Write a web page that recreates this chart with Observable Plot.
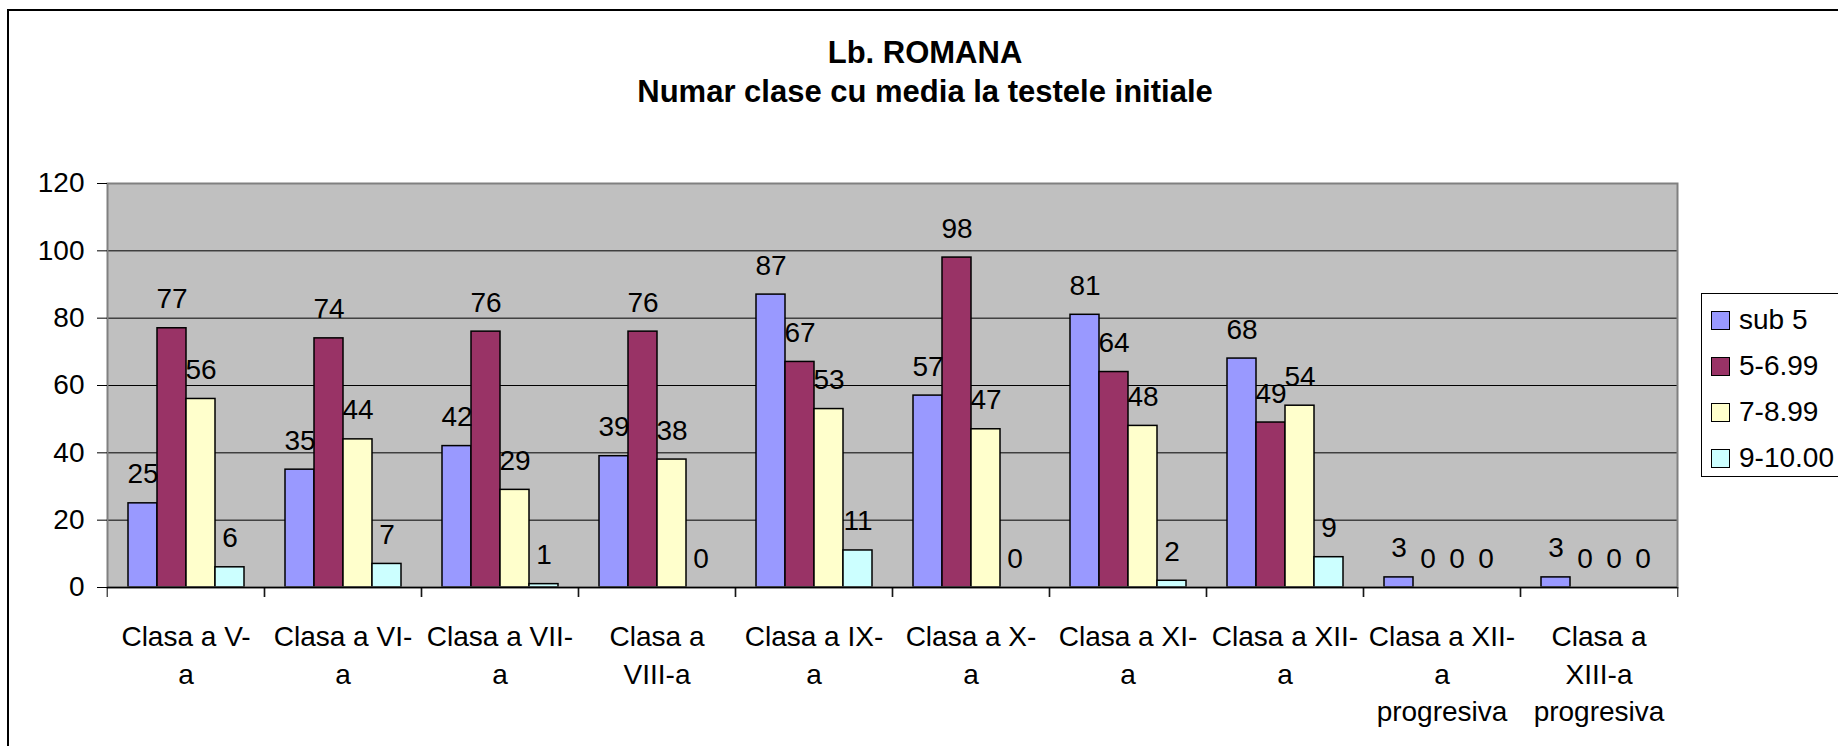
<!DOCTYPE html>
<html><head><meta charset="utf-8">
<script src="https://cdn.jsdelivr.net/npm/d3@7"></script>
<script src="https://cdn.jsdelivr.net/npm/@observablehq/plot@0.6"></script>
<style>
html,body{margin:0;padding:0;background:#fff;}
#wrap{position:relative;width:1838px;height:746px;overflow:hidden;font-family:"Liberation Sans",Arial,sans-serif;color:#000;background:#fff;}
#border{position:absolute;left:7px;top:9px;width:1900px;height:800px;border:2px solid #000;box-sizing:border-box;}
#title{position:absolute;left:0;top:33px;width:1850px;text-align:center;font-weight:bold;font-size:31px;line-height:39px;}
#chart{position:absolute;left:0;top:150px;}
#legend{position:absolute;left:1701px;top:293px;width:220px;height:184px;border:1.5px solid #000;box-sizing:border-box;background:#fff;padding-top:3px;}
.row{height:46px;display:flex;align-items:center;font-size:28px;}
.sw{width:19px;height:19px;border:1.5px solid #000;box-sizing:border-box;margin-left:9px;margin-right:9px;}
</style></head>
<body>
<div id="wrap">
  <div id="border"></div>
  <div id="title"><div>Lb. ROMANA</div><div>Numar clase cu media la testele initiale</div></div>
  <div id="chart"></div>
  <div id="legend"></div>
</div>
<script>
const categories = ["Clasa a V-a","Clasa a VI-a","Clasa a VII-a","Clasa a VIII-a","Clasa a IX-a","Clasa a X-a","Clasa a XI-a","Clasa a XII-a","Clasa a XII-a progresiva","Clasa a XIII-a progresiva"];
const tickLabels = ["Clasa a V-\na","Clasa a VI-\na","Clasa a VII-\na","Clasa a\nVIII-a","Clasa a IX-\na","Clasa a X-\na","Clasa a XI-\na","Clasa a XII-\na","Clasa a XII-\na\nprogresiva","Clasa a\nXIII-a\nprogresiva"];
const series = ["sub 5","5-6.99","7-8.99","9-10.00"];
const colors = ["#9999FF","#993366","#FFFFCC","#CCFFFF"];
const sub5   = [25,35,42,39,87,57,81,68,3,3];
const r5_699 = [77,74,76,76,67,98,64,49,0,0];
const r7_899 = [56,44,29,38,53,47,48,54,0,0];
const r9_10  = [6,7,1,0,11,0,2,9,0,0];
const yTicks = [0,20,40,60,80,100,120];
const gridTicks = [20,40,60,80,100];

const seriesValues = [sub5, r5_699, r7_899, r9_10];
const rows = [];
categories.forEach((c, i) => series.forEach((s, j) => rows.push({cat: c, series: s, value: seriesValues[j][i]})));

const W = 1838, ML = 104, MR = 158;
const half = (W - ML - MR) / categories.length / 2;

const chart = Plot.plot({
  width: W, height: 596,
  marginLeft: ML, marginRight: MR, marginTop: 33, marginBottom: 159,
  style: {fontFamily: "Liberation Sans, Arial, sans-serif", color: "#000", background: "transparent"},
  fx: {domain: categories, padding: 0, axis: null},
  x: {domain: series, paddingInner: 0, paddingOuter: 0.67, axis: null},
  y: {domain: [0, 120], axis: null},
  color: {domain: series, range: colors},
  marks: [
    Plot.frame({facet: "super", fill: "#C0C0C0"}),
    Plot.gridY(gridTicks, {stroke: "#000", strokeOpacity: 1, strokeWidth: 1}),
    Plot.barY(rows, {fx: "cat", x: "series", y: "value", fill: "series", stroke: "#000", strokeWidth: 1.5}),
    Plot.frame({facet: "super", stroke: "#808080", strokeWidth: 2}),
    Plot.ruleY([0], {stroke: "#000", strokeWidth: 1.5}),
    Plot.text(rows, {fx: "cat", x: "series", y: "value", text: d => String(d.value), dy: -20, lineAnchor: "bottom", fontSize: 28, fill: "#000"}),
    Plot.axisY(yTicks, {tickSize: 10, tickPadding: 13, fontSize: 28, label: null, stroke: "#000", fill: "#000"}),
    Plot.axisFx({anchor: "bottom", tickSize: 0, tickPadding: 32, tickFormat: c => tickLabels[categories.indexOf(c)], fontSize: 28, lineHeight: 1.34, label: null, fill: "#000"}),
    Plot.axisFx({anchor: "bottom", tickSize: 10, tickFormat: () => "", dx: -half, label: null, stroke: "#000"}),
    Plot.axisFx({anchor: "bottom", tickSize: 10, tickFormat: () => "", dx: half, label: null, stroke: "#000"})
  ]
});
document.getElementById("chart").appendChild(chart);

const colorScale = chart.scale("color");
const legend = document.getElementById("legend");
colorScale.domain.forEach((s, i) => {
  const row = document.createElement("div");
  row.className = "row";
  const sw = document.createElement("div");
  sw.className = "sw";
  sw.style.background = colorScale.range[i];
  const t = document.createElement("span");
  t.textContent = s;
  row.appendChild(sw); row.appendChild(t);
  legend.appendChild(row);
});
</script>
</body></html>
